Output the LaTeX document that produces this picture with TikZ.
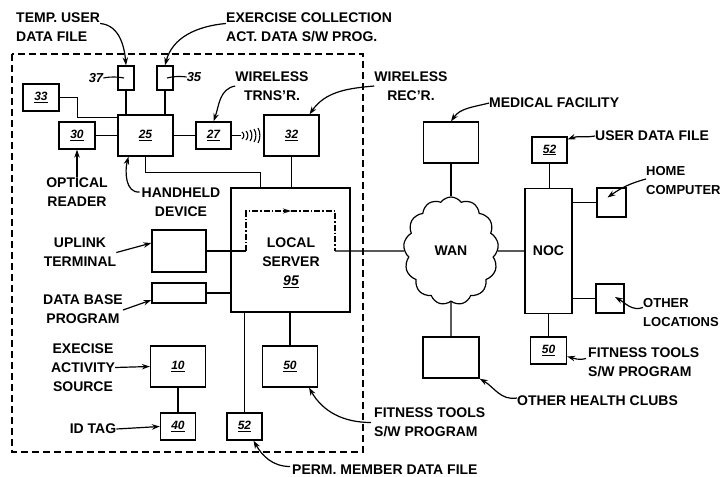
\documentclass[tikz,border=0pt]{standalone}
\usepackage{fontspec}
\setmainfont{Liberation Sans}
\usetikzlibrary{shapes.symbols, arrows.meta}

\begin{document}
\begin{tikzpicture}[x=1pt, y=-1pt,
        box/.style={draw, rectangle, line width=1.3pt, inner sep=0pt, font=\fontsize{12}{14}\selectfont\bfseries\itshape},
        wh/.style 2 args={minimum width=#1pt, minimum height=#2pt},
        lbl/.style={font=\fontsize{14}{19}\selectfont\bfseries, inner sep=0pt, align=center},
        num/.style={font=\fontsize{13}{15}\selectfont\bfseries\itshape, inner sep=0pt},
        link/.style={line width=1.1pt},
        pointer/.style={line width=1.2pt, -{Stealth[length=8pt, width=5.5pt]}},
        flow/.style={line width=1.1pt, dash pattern=on 6pt off 2pt on 1.5pt off 2pt}
    ]
        \useasboundingbox (0,0) rectangle (724,477);

        % Health club frame
        \draw[line width=1.2pt, dash pattern=on 7pt off 4pt] (12,54) rectangle (363,452);

        % Handheld side
        \node[box, wh={16}{24}] (b37) at (126,78) {};
        \node[box, wh={16}{24}] (b35) at (165,78) {};
        \node[box, wh={36}{27}] (b33) at (41,97.5) {\underline{33}};
        \node[box, wh={36}{27}] (b30) at (77,135.5) {\underline{30}};
        \node[box, wh={55}{41}] (b25) at (145.5,135.5) {\underline{25}};
        \node[box, wh={35}{27}] (b27) at (213.5,135.5) {\underline{27}};
        \node[box, wh={55}{41}] (b32) at (291.5,135.5) {\underline{32}};

        % Local server side
        \node[box, wh={119}{124}] (server) at (290.5,250) {};
        \node[lbl] (srvlbl) at (291,263) {LOCAL\\SERVER\\\textit{\underline{95}}};
        \node[box, wh={54}{42}] (uplink) at (179,251) {};
        \node[box, wh={54}{20}] (dbase) at (179,293) {};
        \node[box, wh={55}{41}] (b10) at (178,366.5) {\underline{10}};
        \node[box, wh={35}{27}] (b40) at (178,426.5) {\underline{40}};
        \node[box, wh={35}{27}] (b52p) at (244.5,426.5) {\underline{52}};
        \node[box, wh={55}{41}] (b50) at (290,366.5) {\underline{50}};

        % Network side
        \node[draw, cloud, cloud puffs=13, cloud puff arc=110, cloud ignores aspect,
              minimum width=95pt, minimum height=108pt, line width=1.2pt, lbl] (wan) at (451,251) {WAN};
        \node[box, wh={55}{41}] (medical) at (451,142.5) {};
        \node[box, wh={56}{41}] (health) at (451,357.5) {};
        \node[box, wh={47}{125}, font=\fontsize{14}{19}\selectfont\bfseries] (noc) at (548.5,251) {NOC};
        \node[box, wh={35}{26}] (b52u) at (549.5,150) {\underline{52}};
        \node[box, wh={29}{29}] (home) at (611.5,202.5) {};
        \node[box, wh={28}{29}] (otherloc) at (610,298.5) {};
        \node[box, wh={36}{27}] (b50n) at (548.5,350.5) {\underline{50}};

        % Connectors
        \draw[link] (b33.east) -- ++(18,0) |- ([yshift=-3pt]b25.north west);
        \draw[link] (b30.east) -- (b25.west);
        \draw[link] (b25.east) -- (b27.east -| b27.west);
        \draw[link] (b37.south) -- (b37.south |- b25.north);
        \draw[link] (b35.south) -- (b35.south |- b25.north);
        \draw[link] (b25.south) -- ++(0,16) -| ([xshift=-30pt]server.north);
        \draw[link] (b32.south) -- (b32.south |- server.north);
        \draw[link] (b27.east) -- ++(9,0);
        \foreach \x/\h in {242/3.5, 246/4.5, 250/5.5, 254/6.5, 258/7.5}
            \draw[link] (\x,135.5-\h) .. controls (\x+2.5,135.5-\h/2) and (\x+2.5,135.5+\h/2) .. (\x,135.5+\h);

        \coordinate (fin) at (246,251);
        \coordinate (ftop) at (291,211);
        \coordinate (fout) at (335,251);
        \draw[link] (uplink.east) -- (fin);
        \draw[flow, -{Stealth[length=8pt, width=5pt]}] (fin) |- (ftop);
        \draw[flow] (ftop) -| (fout);
        \draw[link] (fout) -- (wan.west);
        \draw[link] (dbase.east) -- (dbase.east -| server.west);
        \draw[link] (b52p.north) -- (b52p.north |- server.south);
        \draw[link] (b50.north) -- (b50.north |- server.south);
        \draw[link] (b10.south) -- (b40.north);

        \draw[link] (medical.south) -- (wan.north);
        \draw[link] (wan.south) -- (health.north);
        \draw[link] (wan.east) -- (noc.west);
        \draw[link] (b52u.south) -- (b52u.south |- noc.north);
        \draw[link] (home.west) -- (home.west -| noc.east);
        \draw[link] (otherloc.west) -- (otherloc.west -| noc.east);
        \draw[link] (b50n.north) -- (b50n.north |- noc.south);

        % Labels
        \node[lbl, align=left, anchor=west] (tmplbl) at (16,27.5) {TEMP. USER\\DATA FILE};
        \node[lbl, align=left, anchor=west] (exclbl) at (226,27.5) {EXERCISE COLLECTION\\ACT. DATA S/W PROG.};
        \node[num] (n37) at (96,78) {37};
        \node[num] (n35) at (194,77) {35};
        \node[lbl] (trnslbl) at (272,86) {WIRELESS\\TRNS'R.};
        \node[lbl] (reclbl) at (411,86) {WIRELESS\\REC'R.};
        \node[lbl, anchor=west] (medlbl) at (489,103) {MEDICAL FACILITY};
        \node[lbl, anchor=west] (udflbl) at (595,136) {USER DATA FILE};
        \node[lbl, align=left, anchor=west, font=\fontsize{13}{19}\selectfont\bfseries] (homelbl) at (646,181) {HOME\\COMPUTER};
        \node[lbl, align=left, anchor=west, font=\fontsize{13}{19}\selectfont\bfseries] (othlbl) at (643,312.5) {OTHER\\LOCATIONS};
        \node[lbl, align=left, anchor=west] (ftnlbl) at (588,362.5) {FITNESS TOOLS\\S/W PROGRAM};
        \node[lbl, anchor=west] (hcllbl) at (517,401) {OTHER HEALTH CLUBS};
        \node[lbl, align=left, anchor=west] (ftllbl) at (374,422.5) {FITNESS TOOLS\\S/W PROGRAM};
        \node[lbl, anchor=west] (permlbl) at (292,469.5) {PERM. MEMBER DATA FILE};
        \node[lbl] (hhlbl) at (181,202) {HANDHELD\\DEVICE};
        \node[lbl] (optlbl) at (77,192) {OPTICAL\\READER};
        \node[lbl] (upllbl) at (80,252.5) {UPLINK\\TERMINAL};
        \node[lbl] (dbllbl) at (83,309) {DATA BASE\\PROGRAM};
        \node[lbl] (exslbl) at (83,367.5) {EXECISE\\ACTIVITY\\SOURCE};
        \node[lbl] (idlbl) at (93,429) {ID TAG};

        % Pointers
        \draw[pointer] ([yshift=4pt]tmplbl.east) to[out=-5, in=95] (b37.north);
        \draw[pointer] ([yshift=4pt]exclbl.west) to[out=185, in=75] (b35.north);
        \draw[link] (n37.east) to[bend left=10] ([xshift=-2pt]b37.center);
        \draw[link] (n35.west) to[bend right=10] ([xshift=2pt]b35.center);
        \draw[pointer] (trnslbl.west) to[out=190, in=70] (b27.north);
        \draw[pointer] (reclbl.west) to[out=185, in=55] ([xshift=18pt]b32.north);
        \draw[pointer] (medlbl.west) to[out=195, in=55] (medical.north);
        \draw[pointer] (udflbl.west) to[out=190, in=20] ([yshift=-3pt]b52u.north east);
        \draw[pointer] ([yshift=2pt]homelbl.west) to[out=195, in=35] ([shift={(-4pt,5pt)}]home.center);
        \draw[pointer] ([yshift=5pt]othlbl.west) to[out=200, in=-30] ([shift={(5pt,1.5pt)}]otherloc.center);
        \draw[pointer] ([shift={(-2pt,4pt)}]ftnlbl.west) to[out=195, in=-15] ([yshift=-6pt]b50n.east);
        \draw[pointer] ([yshift=3pt]hcllbl.west) to[out=190, in=-30] (health.south east);
        \draw[pointer] ([xshift=-3pt]ftllbl.west) to[out=180, in=-60] ([xshift=19pt]b50.south);
        \draw[pointer] ([shift={(-2pt,3pt)}]permlbl.west) to[out=180, in=-60] ([xshift=9pt]b52p.south);
        \draw[pointer] ([shift={(-2pt,10pt)}]hhlbl.west) to[out=185, in=-105] ([xshift=-17pt]b25.south);
        \draw[pointer] (optlbl.north) -- (b30.south);
        \draw[pointer] (upllbl.east) -- ([yshift=8pt]uplink.west);
        \draw[pointer] ([yshift=-1pt]dbllbl.east) -- ([yshift=-7pt]dbase.west);
        \draw[pointer] (exslbl.east) -- (b10.west);
        \draw[pointer] (idlbl.east) -- (b40.west);
    \end{tikzpicture}
\end{document}
